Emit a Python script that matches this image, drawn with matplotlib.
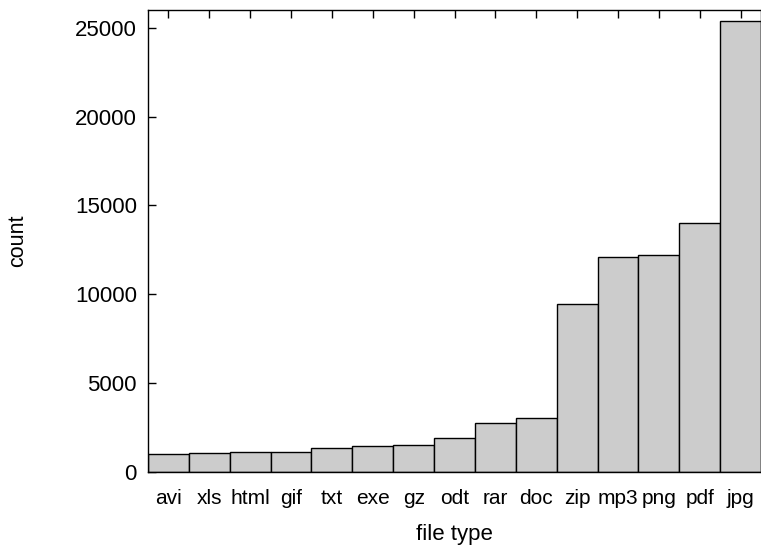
import matplotlib
matplotlib.use('Agg')
import matplotlib.pyplot as plt

file_types = ['avi', 'xls', 'html', 'gif', 'txt', 'exe', 'gz', 'odt', 'rar', 'doc',
              'zip', 'mp3', 'png', 'pdf', 'jpg']
counts = [1030, 1070, 1140, 1150, 1370, 1460, 1500, 1930, 2780, 3040,
          9470, 12100, 12200, 14000, 25400]
y_ticks = [0, 5000, 10000, 15000, 20000, 25000]

plt.rcParams['font.family'] = ['Liberation Sans', 'DejaVu Sans']

fig = plt.figure(figsize=(7.61, 5.45), dpi=100)
ax = fig.add_axes([148 / 761, 73 / 545, 613 / 761, 462 / 545])

x = list(range(len(file_types)))
ax.bar(x, counts, width=1.0, color='#cccccc', edgecolor='black', linewidth=1.0, zorder=2)

ax.set_xlim(-0.5, len(file_types) - 0.5)
ax.set_ylim(0, 26000)
ax.set_yticks(y_ticks)
ax.set_yticklabels([str(v) for v in y_ticks], fontsize=16)
ax.set_xticks(x)
ax.set_xticklabels(file_types, fontsize=15)

ax.tick_params(axis='y', direction='in', length=6, width=1, pad=8)
ax.tick_params(axis='x', direction='in', length=6, width=1, pad=12, top=True, bottom=False)

for s in ax.spines.values():
    s.set_linewidth(1.0)
    s.set_zorder(3)

ax.set_ylabel('count', fontsize=15.5, labelpad=34)
ax.set_xlabel('file type', fontsize=16, labelpad=12)

fig.savefig('out.png', dpi=100)
